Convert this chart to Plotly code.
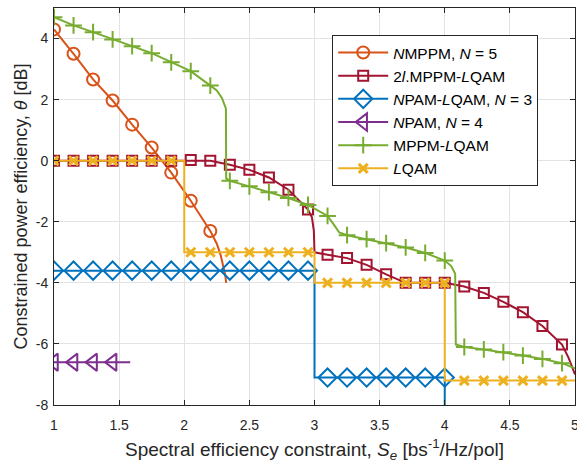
import plotly.graph_objects as go

# ---------------- data ----------------
# NMPPM, N = 5
nmppm_x = [1.0, 1.15, 1.3, 1.45, 1.6, 1.75, 1.9, 2.05, 2.2, 2.25, 2.28, 2.30, 2.315, 2.322]
nmppm_y = [4.3, 3.5, 2.66, 1.97, 1.18, 0.43, -0.39, -1.31, -2.30, -2.72, -3.1, -3.45, -3.75, -4.0]
nmppm_mx = [1.0, 1.15, 1.3, 1.45, 1.6, 1.75, 1.9, 2.05, 2.2]
nmppm_my = [4.3, 3.5, 2.66, 1.97, 1.18, 0.43, -0.39, -1.31, -2.30]

# 2l.MPPM-LQAM
lmppm_mx = [1.0, 1.15, 1.3, 1.45, 1.6, 1.75, 1.9, 2.05, 2.2, 2.35, 2.5, 2.65, 2.8, 2.95,
            3.1, 3.25, 3.4, 3.55, 3.7, 3.85, 4.0, 4.15, 4.3, 4.45, 4.6, 4.75, 4.9]
lmppm_my = [0, 0, 0, 0, 0, 0, 0, 0.02, 0, -0.13, -0.3, -0.55, -0.95, -1.6,
            -3.08, -3.19, -3.41, -3.72, -4.0, -4.0, -4.0, -4.12, -4.33, -4.62, -4.96, -5.41, -6.02]
lmppm_x = [1.0, 2.2, 2.35, 2.5, 2.65, 2.8, 2.95, 2.98, 2.995, 3.0,
           3.1, 3.25, 3.4, 3.55, 3.7, 3.85, 4.0, 4.15, 4.3, 4.45, 4.6, 4.75, 4.9, 4.95, 5.0]
lmppm_y = [0, 0, -0.13, -0.3, -0.55, -0.95, -1.6, -1.85, -2.3, -3.0,
           -3.08, -3.19, -3.41, -3.72, -4.0, -4.0, -4.0, -4.12, -4.33, -4.62, -4.96, -5.41, -6.02, -6.45, -7.0]

# NPAM-LQAM, N = 3
npamlqam_x = [1.0, 3.0, 3.0, 4.0, 4.0]
npamlqam_y = [-3.6, -3.6, -7.1, -7.1, -9.0]
npamlqam_mx = [1.0, 1.15, 1.3, 1.45, 1.6, 1.75, 1.9, 2.05, 2.2, 2.35, 2.5, 2.65, 2.8, 2.95,
               3.1, 3.25, 3.4, 3.55, 3.7, 3.85, 4.0]
npamlqam_my = [-3.6] * 14 + [-7.1] * 7

# NPAM, N = 4
npam_x = [1.0, 1.585]
npam_y = [-6.6, -6.6]
npam_mx = [1.0, 1.15, 1.3, 1.45]
npam_my = [-6.6, -6.6, -6.6, -6.6]

# MPPM-LQAM
mppm_mx = [1.0, 1.15, 1.3, 1.45, 1.6, 1.75, 1.9, 2.05, 2.2, 2.35, 2.5, 2.65, 2.8, 2.95,
           3.1, 3.25, 3.4, 3.55, 3.7, 3.85, 4.0, 4.15, 4.3, 4.45, 4.6, 4.75, 4.9]
mppm_my = [4.70, 4.43, 4.21, 3.97, 3.75, 3.52, 3.22, 2.93, 2.46, -0.66, -0.84, -1.03, -1.22, -1.45,
           -1.81, -2.44, -2.57, -2.70, -2.84, -3.02, -3.27, -6.10, -6.18, -6.27, -6.38, -6.49, -6.63]
mppm_x = [1.0, 1.15, 1.3, 1.45, 1.6, 1.75, 1.9, 2.05, 2.2, 2.25, 2.29, 2.31, 2.32, 2.322,
          2.35, 2.5, 2.65, 2.8, 2.95, 3.1, 3.15, 3.19, 3.25, 3.4, 3.55, 3.7, 3.85, 4.0,
          4.05, 4.08, 4.085, 4.15, 4.3, 4.45, 4.6, 4.75, 4.9, 5.0]
mppm_y = [4.70, 4.43, 4.21, 3.97, 3.75, 3.52, 3.22, 2.93, 2.46, 2.3, 2.05, 1.85, 1.7, -0.58,
          -0.66, -0.84, -1.03, -1.22, -1.45, -1.81, -2.1, -2.35, -2.44, -2.57, -2.70, -2.84, -3.02, -3.27,
          -3.45, -3.7, -6.02, -6.10, -6.18, -6.27, -6.38, -6.49, -6.63, -6.8]

# LQAM
lqam_x = [1.0, 2.0, 2.0, 3.0, 3.0, 4.0, 4.0, 5.0]
lqam_y = [0, 0, -3.0, -3.0, -4.0, -4.0, -7.2, -7.2]
lqam_mx = [1.0, 1.15, 1.3, 1.45, 1.6, 1.75, 1.9, 2.05, 2.2, 2.35, 2.5, 2.65, 2.8, 2.95,
           3.1, 3.25, 3.4, 3.55, 3.7, 3.85, 4.0, 4.15, 4.3, 4.45, 4.6, 4.75, 4.9]
lqam_my = [0] * 7 + [-3.0] * 7 + [-4.0] * 7 + [-7.2] * 6

x_ticks = [1, 1.5, 2, 2.5, 3, 3.5, 4, 4.5, 5]
x_tick_text = ["1", "1.5", "2", "2.5", "3", "3.5", "4", "4.5", "5"]
y_ticks = [-8, -6, -4, -2, 0, 2, 4]
y_tick_text = ["-8", "-6", "-4", "-2", "0", "2", "4"]

# ---------------- figure ----------------
series = [
    ("<i>N</i>MPPM, <i>N</i> = 5", nmppm_x, nmppm_y, nmppm_mx, nmppm_my, "#D95319", "circle-open", 12),
    ("2<i>l</i>.MPPM-<i>L</i>QAM", lmppm_x, lmppm_y, lmppm_mx, lmppm_my, "#A2142F", "square-open", 10),
    ("<i>N</i>PAM-<i>L</i>QAM, <i>N</i> = 3", npamlqam_x, npamlqam_y, npamlqam_mx, npamlqam_my, "#0072BD", "diamond-open", 14),
    ("<i>N</i>PAM, <i>N</i> = 4", npam_x, npam_y, npam_mx, npam_my, "#7E2F8E", "triangle-left-open", 15),
    ("MPPM-<i>L</i>QAM", mppm_x, mppm_y, mppm_mx, mppm_my, "#77AC30", "cross-thin-open", 12),
    ("<i>L</i>QAM", lqam_x, lqam_y, lqam_mx, lqam_my, "#EDB120", "x-thin-open", 9),
]

fig = go.Figure()
for name, lx, ly, mx, my, col, sym, sz in series:
    mlw = 3 if sym == "x-thin-open" else 2
    fig.add_trace(go.Scatter(x=lx, y=ly, mode="lines", line=dict(color=col, width=2),
                             showlegend=False, hoverinfo="skip"))
    fig.add_trace(go.Scatter(x=mx, y=my, mode="markers",
                             marker=dict(symbol=sym, size=sz, color=col, line=dict(color=col, width=mlw)),
                             showlegend=False, cliponaxis=True))
    fig.add_trace(go.Scatter(x=[None], y=[None], mode="lines+markers", name=name,
                             line=dict(color=col, width=2),
                             marker=dict(symbol=sym, size=sz, color=col, line=dict(color=col, width=mlw))))

axis_common = dict(
    showgrid=True, gridcolor="#e3e3e3", gridwidth=1,
    showline=True, linecolor="#262626", linewidth=1, mirror="ticks",
    ticks="inside", ticklen=5, tickcolor="#262626", zeroline=False,
    ticklabeloverflow="allow", automargin=False,
    tickfont=dict(family="Liberation Sans, Arial, sans-serif", size=14, color="#262626"),
)

fig.update_layout(
    width=577, height=468,
    margin=dict(l=54, r=2, t=8, b=63),
    paper_bgcolor="white", plot_bgcolor="white",
    font=dict(family="Liberation Sans, Arial, sans-serif", color="#262626"),
    xaxis=dict(range=[1, 5], tickvals=x_ticks, ticktext=x_tick_text, ticklabelstandoff=7,
               title=dict(text="Spectral efficiency constraint, <i>S</i><sub><i>e</i></sub> [bs<sup>-1</sup>/Hz/pol]",
                          font=dict(size=19), standoff=10),
               **axis_common),
    yaxis=dict(range=[-8, 5], tickvals=y_ticks, ticktext=y_tick_text, ticklabelstandoff=2,
               title=dict(text="Constrained power efficiency, <i>θ</i> [dB]",
                          font=dict(size=18), standoff=3),
               **axis_common),
    legend=dict(x=0.534, y=0.932, xanchor="left", yanchor="top",
                bgcolor="white", bordercolor="#262626", borderwidth=1,
                font=dict(size=15.5, color="#000000"), itemwidth=50,
                tracegroupgap=0),
    showlegend=True,
)

fig.write_html("out.html")
